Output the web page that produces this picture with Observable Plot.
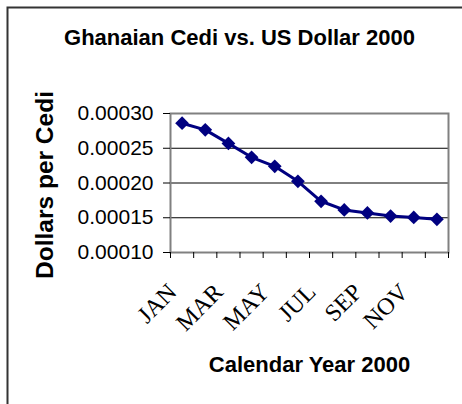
<!DOCTYPE html>
<html><head><meta charset="utf-8">
<script src="https://cdn.jsdelivr.net/npm/d3@7"></script>
<script src="https://cdn.jsdelivr.net/npm/@observablehq/plot@0.6"></script>
<style>body{margin:0;background:#fff}</style>
</head><body><div id="chart"></div>
<script>
const months = ["JAN","FEB","MAR","APR","MAY","JUN","JUL","AUG","SEP","OCT","NOV","DEC"];
const values = [0.000286,0.0002765,0.000257,0.000237,0.000224,0.0002025,0.0001737,0.0001612,0.0001569,0.0001525,0.0001504,0.0001477];
const yTicks = [0.0001,0.00015,0.0002,0.00025,0.0003];
const xTickLabels = ["JAN","MAR","MAY","JUL","SEP","NOV"];
const title = "Ghanaian Cedi vs. US Dollar 2000";
const xTitle = "Calendar Year 2000";
const yTitle = "Dollars per Cedi";

const data = months.map((m, i) => ({i, month: m, value: values[i]}));
const boundaries = d3.range(months.length + 1).map(k => k - 0.5);
const labelData = xTickLabels.map(m => ({i: months.indexOf(m), month: m}));

const chart = Plot.plot({
  width: 462, height: 404,
  marginLeft: 170, marginRight: 14, marginTop: 113, marginBottom: 152,
  style: {fontFamily: "'Liberation Sans', Arial, sans-serif", background: "#fff", color: "#000"},
  x: {type: "linear", domain: [-0.5, months.length - 0.5]},
  y: {domain: [0.0001, 0.0003]},
  marks: [
    Plot.ruleY(yTicks.slice(1, -1), {stroke: "#000", strokeWidth: 1}),
    Plot.frame({stroke: "#808080", strokeWidth: 2}),
    Plot.axisY({ticks: yTicks, tickFormat: d3.format(".5f"), tickSize: 7, tickPadding: 10, fontSize: 21, label: null}),
    Plot.axisX({ticks: boundaries, tickSize: 6, tickFormat: () => "", label: null}),
    Plot.text(labelData, {x: "i", text: "month", frameAnchor: "bottom", dy: 41, dx: -4, rotate: -45, textAnchor: "end", lineAnchor: "bottom", fontFamily: "'Liberation Serif', 'Times New Roman', serif", fontSize: 24}),
    Plot.line(data, {x: "i", y: "value", stroke: "#000080", strokeWidth: 3}),
    Plot.dot(data, {x: "i", y: "value", symbol: "diamond2", r: 6.2, fill: "#000080", stroke: "none"}),
    Plot.text([title], {frameAnchor: "top", dy: -69, dx: -70, lineAnchor: "bottom", fontWeight: "bold", fontSize: 22}),
    Plot.text([xTitle], {frameAnchor: "bottom", dy: 119, lineAnchor: "bottom", fontWeight: "bold", fontSize: 22}),
    Plot.text([yTitle], {frameAnchor: "left", dx: -118, dy: 2, rotate: -90, textAnchor: "middle", lineAnchor: "bottom", fontWeight: "bold", fontSize: 24.5})
  ]
});
d3.select(chart).append("path")
  .attr("d", "M7.5,404V7.5H462")
  .attr("fill", "none").attr("stroke", "#333").attr("stroke-width", 2);
document.getElementById("chart").appendChild(chart);
</script>
</body></html>
